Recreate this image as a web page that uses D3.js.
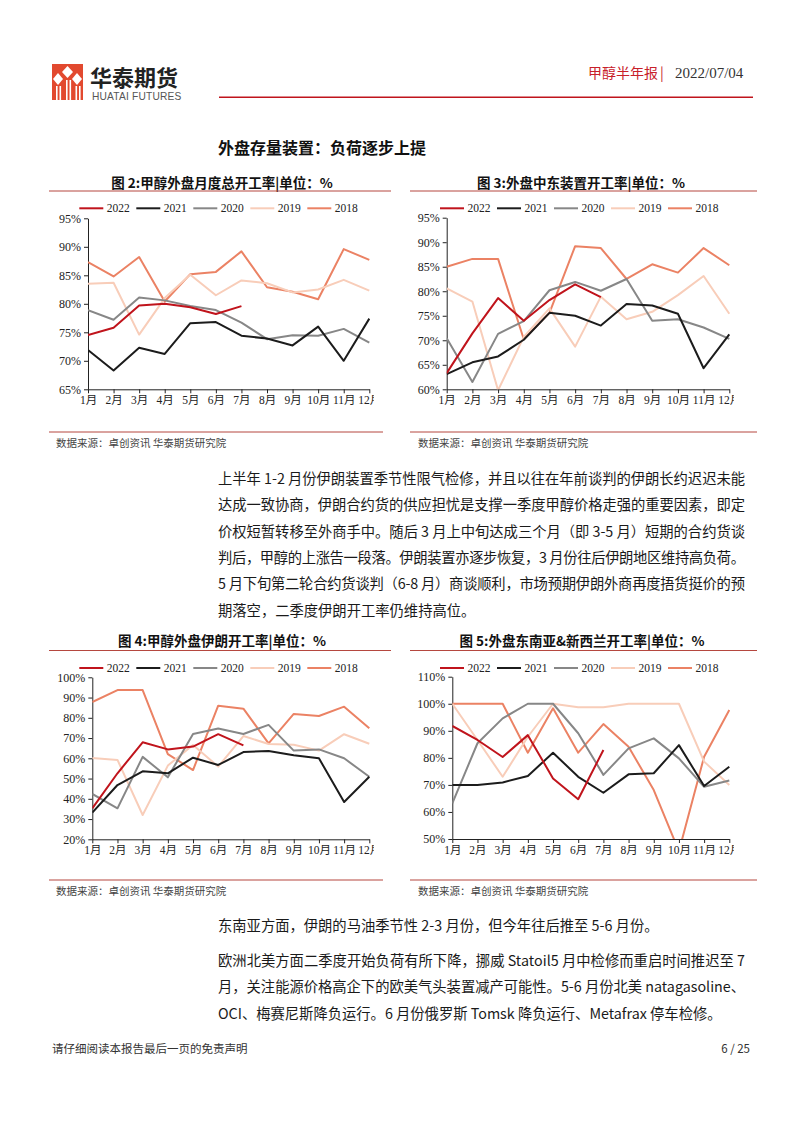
<!DOCTYPE html>
<html>
<head>
<meta charset="utf-8">
<script src="https://cdn.jsdelivr.net/npm/d3@7"></script>
<style>
  body { margin: 0; background: #fff; }
  svg { display: block; }
</style>
</head>
<body>
<svg id="page"></svg>
<script>
const W = 802;
const H = 1133;

const months = ["1月", "2月", "3月", "4月", "5月", "6月", "7月", "8月", "9月", "10月", "11月", "12月"];
const years = ["2022", "2021", "2020", "2019", "2018"];
const yearColors = ["#C0141C", "#1C1C1C", "#878787", "#F8CDB9", "#EB8264"];

// 图2 甲醇外盘月度总开工率
const total2022 = [74.5, 75.8, 79.7, 80.0, 79.4, 78.2, 79.6];
const total2021 = [71.9, 68.3, 72.3, 71.2, 76.6, 76.8, 74.4, 73.9, 72.7, 76.0, 70.0, 77.4];
const total2020 = [78.9, 77.2, 81.1, 80.6, 79.6, 78.9, 76.7, 73.8, 74.5, 74.4, 75.6, 73.2];
const total2019 = [83.5, 83.7, 74.6, 81.0, 85.1, 81.5, 84.1, 83.6, 82.0, 82.5, 84.2, 82.3];
const total2018 = [87.3, 84.8, 88.2, 80.4, 85.2, 85.6, 89.2, 82.9, 82.1, 80.8, 89.6, 87.7];

// 图3 外盘中东装置开工率
const mideast2022 = [63.3, 71.4, 78.6, 74.0, 78.2, 81.4, 78.8];
const mideast2021 = [63.1, 65.5, 66.7, 70.1, 75.6, 75.0, 73.0, 77.4, 77.1, 75.4, 64.3, 71.2];
const mideast2020 = [70.4, 61.5, 71.3, 73.9, 80.2, 81.9, 80.1, 82.5, 74.0, 74.3, 72.6, 70.3];
const mideast2019 = [80.6, 77.9, 59.8, 70.7, 76.5, 68.7, 78.9, 74.3, 75.8, 79.2, 83.1, 75.4];
const mideast2018 = [85.0, 86.6, 86.6, 70.2, 75.6, 89.2, 88.8, 82.5, 85.5, 83.8, 88.8, 85.3];

// 图4 甲醇外盘伊朗开工率
const iran2022 = [35.3, 52.6, 67.9, 64.4, 65.8, 71.9, 66.4];
const iran2021 = [33.2, 46.8, 53.6, 52.6, 60.3, 56.7, 63.1, 63.6, 61.5, 60.0, 38.4, 50.9];
const iran2020 = [42.4, 35.3, 60.7, 50.6, 72.0, 74.7, 72.0, 76.5, 63.8, 64.4, 60.0, 50.9];
const iran2019 = [60.2, 59.2, 32.0, 56.4, 66.6, 55.9, 71.0, 67.1, 66.7, 63.8, 71.9, 67.2];
const iran2018 = [87.8, 93.7, 93.7, 62.1, 54.2, 86.0, 84.5, 67.4, 81.9, 80.9, 85.5, 74.8];

// 图5 外盘东南亚&新西兰开工率
const sea2022 = [91.8, 86.6, 80.3, 88.4, 72.4, 64.7, 82.9];
const sea2021 = [70.0, 70.0, 70.9, 73.3, 81.9, 73.0, 67.1, 73.9, 74.3, 84.7, 69.6, 76.7];
const sea2020 = [63.2, 85.4, 94.6, 100, 100, 89.1, 73.7, 83.5, 87.2, 79.8, 69.3, 71.6];
const sea2019 = [100, 86.6, 73.0, 87.8, 100, 98.7, 98.7, 100, 100, 100, 78.6, 70.0];
const sea2018 = [100, 100, 100, 81.9, 98.3, 81.9, 92.5, 84.1, 68.1, 45.5, 80.4, 97.7];

const ticksTotal = [65, 70, 75, 80, 85, 90, 95];
const ticksMideast = [60, 65, 70, 75, 80, 85, 90, 95];
const ticksIran = [20, 30, 40, 50, 60, 70, 80, 90, 100];
const ticksSea = [50, 60, 70, 80, 90, 100, 110];

const sourceText = "数据来源：卓创资讯 华泰期货研究院";

const CJK = "'Noto Sans CJK SC', 'Noto Sans', sans-serif";
const SERIF = "'Liberation Serif', 'DejaVu Serif', 'Noto Sans CJK SC', serif";

const svg = d3.select("#page").attr("width", W).attr("height", H);
svg.append("rect").attr("width", W).attr("height", H).attr("fill", "#fff");

// Header
const logo = svg.append("g");
logo.append("rect").attr("x", 52).attr("y", 64).attr("width", 31).attr("height", 36).attr("fill", "#E2492F");
// white diamonds + stripes of the logo
const whiteShapes = [
  [[67.5, 66], [73, 72], [67.5, 78], [62, 72]],
  [[58, 73], [63, 79], [58, 85], [53, 79]],
  [[77, 73], [82, 79], [77, 85], [72, 79]],
];
whiteShapes.forEach(p => logo.append("polygon").attr("points", p.map(q => q.join(",")).join(" ")).attr("fill", "#fff"));
[[56, 86, 1.6], [59.5, 86, 1.6], [66, 80, 1.6], [69.5, 80, 1.6], [75.5, 86, 1.6], [79, 86, 1.6]].forEach(([x, y, w]) => {
  logo.append("rect").attr("x", x).attr("y", y).attr("width", w).attr("height", 100 - y).attr("fill", "#fff");
});

svg.append("text").attr("x", 90).attr("y", 86).attr("font-family", CJK).attr("font-weight", 700)
  .attr("font-size", 22).attr("fill", "#222").text("华泰期货");
svg.append("text").attr("x", 92).attr("y", 100).attr("font-family", "'Liberation Sans', Arial, sans-serif")
  .attr("font-size", 10.2).attr("fill", "#555").attr("letter-spacing", 0.2).text("HUATAI FUTURES");

svg.append("text").attr("x", 588).attr("y", 78).attr("font-family", CJK).attr("font-size", 14)
  .attr("fill", "#C8202A").text("甲醇半年报");
svg.append("text").attr("x", 660).attr("y", 78).attr("font-family", CJK).attr("font-size", 14)
  .attr("fill", "#C8202A").text("|");
svg.append("text").attr("x", 675).attr("y", 78).attr("font-family", SERIF).attr("font-size", 15)
  .attr("fill", "#333").text("2022/07/04");
svg.append("line").attr("x1", 219).attr("x2", 753).attr("y1", 97.3).attr("y2", 97.3)
  .attr("stroke", "#C0141C").attr("stroke-width", 1.6);

svg.append("text").attr("x", 218).attr("y", 154).attr("font-family", CJK).attr("font-weight", 700)
  .attr("font-size", 16).attr("fill", "#111").text("外盘存量装置：负荷逐步上提");

// Charts
const charts = [
  {
    id: "c2", title: "图 2:甲醇外盘月度总开工率|单位：%", box: [49, 391], srcEnd: 383, titleCx: 222,
    titleY: 183, ruleY: 191, legendX: 79.3, legendY: 208.3,
    x0: 88, x1: 369.3, yTop: 218.3, yBot: 389.3, domain: [65, 95], ticks: ticksTotal,
    series: [total2022, total2021, total2020, total2019, total2018], srcY: 432, srcTextX: 56
  },
  {
    id: "c3", title: "图 3:外盘中东装置开工率|单位：%", box: [410, 757], srcEnd: 757, titleCx: 581,
    titleY: 183, ruleY: 191, legendX: 440, legendY: 208.3,
    x0: 446.7, x1: 729.3, yTop: 217.7, yBot: 389.3, domain: [60, 95], ticks: ticksMideast,
    series: [mideast2022, mideast2021, mideast2020, mideast2019, mideast2018], srcY: 432, srcTextX: 418
  },
  {
    id: "c4", title: "图 4:甲醇外盘伊朗开工率|单位：%", box: [49, 391], srcEnd: 383, titleCx: 222,
    titleY: 641, ruleY: 650.5, legendX: 79.3, legendY: 668,
    x0: 92.3, x1: 369.3, yTop: 677.3, yBot: 839.3, domain: [20, 100], ticks: ticksIran,
    series: [iran2022, iran2021, iran2020, iran2019, iran2018], srcY: 880, srcTextX: 56
  },
  {
    id: "c5", title: "图 5:外盘东南亚&新西兰开工率|单位：%", box: [410, 757], srcEnd: 757, titleCx: 582,
    titleY: 641, ruleY: 650.5, legendX: 440, legendY: 668,
    x0: 452.3, x1: 729.3, yTop: 676.7, yBot: 839, domain: [50, 110], ticks: ticksSea,
    series: [sea2022, sea2021, sea2020, sea2019, sea2018], srcY: 880, srcTextX: 418
  }
];

const defs = svg.append("defs");

charts.forEach(drawChart);

function drawChart(cfg) {
  const x = d3.scalePoint().domain(months).range([cfg.x0, cfg.x1]);
  const y = d3.scaleLinear().domain(cfg.domain).range([cfg.yBot, cfg.yTop]);
  const g = svg.append("g");

  // Title + rule
  g.append("text").attr("x", cfg.titleCx).attr("y", cfg.titleY).attr("dy", "0.36em")
    .attr("text-anchor", "middle").attr("font-family", CJK).attr("font-weight", 700)
    .attr("font-size", 13.5).attr("fill", "#111").text(cfg.title);
  g.append("line").attr("x1", cfg.box[0]).attr("x2", cfg.box[1]).attr("y1", cfg.ruleY).attr("y2", cfg.ruleY)
    .attr("stroke", "#B5473F").attr("stroke-width", 1);

  // Clip paths (x-axis clip is in the axis group's translated space)
  defs.append("clipPath").attr("id", cfg.id + "plot").append("rect")
    .attr("x", cfg.x0).attr("y", cfg.yTop - 1).attr("width", cfg.x1 - cfg.x0 + 2).attr("height", cfg.yBot - cfg.yTop + 1);
  defs.append("clipPath").attr("id", cfg.id + "xax").append("rect")
    .attr("x", cfg.x0 - 20).attr("y", -2).attr("width", cfg.x1 - cfg.x0 + 24.5).attr("height", 30);

  // Y axis
  const ya = g.append("g").attr("transform", `translate(${cfg.x0},0)`)
    .call(d3.axisLeft(y).tickValues(cfg.ticks).tickFormat(d => d + "%").tickSize(4).tickPadding(3).tickSizeOuter(0));
  ya.selectAll("text").attr("font-family", SERIF).attr("font-size", 12).attr("fill", "#222");
  ya.selectAll("line, path").attr("stroke", "#222");

  // X axis
  const xa = g.append("g").attr("transform", `translate(0,${cfg.yBot})`)
    .attr("clip-path", `url(#${cfg.id}xax)`)
    .call(d3.axisBottom(x).tickSize(4).tickPadding(3).tickSizeOuter(0));
  xa.selectAll("text").attr("font-family", SERIF).attr("font-size", 11.5).attr("fill", "#222");
  xa.selectAll("line, path").attr("stroke", "#222");

  // Lines, 2018 drawn first so 2022 sits on top
  const line = d3.line().x((d, i) => x(months[i])).y(d => y(d));
  const lines = g.append("g").attr("clip-path", `url(#${cfg.id}plot)`);
  for (let i = years.length - 1; i >= 0; i--) {
    lines.append("path").datum(cfg.series[i]).attr("d", line)
      .attr("fill", "none").attr("stroke", yearColors[i]).attr("stroke-width", 2)
      .attr("stroke-linejoin", "round");
  }

  // Legend
  years.forEach((yr, i) => {
    const lx = cfg.legendX + i * 57;
    g.append("line").attr("x1", lx).attr("x2", lx + 24).attr("y1", cfg.legendY).attr("y2", cfg.legendY)
      .attr("stroke", yearColors[i]).attr("stroke-width", 2);
    g.append("text").attr("x", lx + 27.5).attr("y", cfg.legendY).attr("dy", "0.35em")
      .attr("font-family", SERIF).attr("font-size", 11.5).attr("fill", "#222").text(yr);
  });

  // Source
  g.append("line").attr("x1", cfg.box[0]).attr("x2", cfg.srcEnd).attr("y1", cfg.srcY).attr("y2", cfg.srcY)
    .attr("stroke", "#B5473F").attr("stroke-width", 1);
  g.append("text").attr("x", cfg.srcTextX).attr("y", cfg.srcY + 11).attr("dy", "0.36em")
    .attr("font-family", CJK).attr("font-size", 10.5).attr("fill", "#444").text(sourceText);
}

// Body text
const para1 = [
  "上半年 1-2 月份伊朗装置季节性限气检修，并且以往在年前谈判的伊朗长约迟迟未能",
  "达成一致协商，伊朗合约货的供应担忧是支撑一季度甲醇价格走强的重要因素，即定",
  "价权短暂转移至外商手中。随后 3 月上中旬达成三个月（即 3-5 月）短期的合约货谈",
  "判后，甲醇的上涨告一段落。伊朗装置亦逐步恢复，3 月份往后伊朗地区维持高负荷。",
  "5 月下旬第二轮合约货谈判（6-8 月）商谈顺利，市场预期伊朗外商再度捂货挺价的预",
  "期落空，二季度伊朗开工率仍维持高位。"
];
const para1Y = [479, 505.3, 531.6, 557.9, 584.2, 610.5];
const para2 = ["东南亚方面，伊朗的马油季节性 2-3 月份，但今年往后推至 5-6 月份。"];
const para3 = [
  "欧洲北美方面二季度开始负荷有所下降，挪威 Statoil5 月中检修而重启时间推迟至 7",
  "月，关注能源价格高企下的欧美气头装置减产可能性。5-6 月份北美 natagasoline、",
  "OCI、梅赛尼斯降负运行。6 月份俄罗斯 Tomsk 降负运行、Metafrax 停车检修。"
];
const para3Y = [961, 987.3, 1013.6];

function bodyLine(txt, y, justify) {
  const t = svg.append("text").attr("x", 218).attr("y", y).attr("dy", "0.36em")
    .attr("font-family", CJK).attr("font-size", 14.3).attr("fill", "#1a1a1a").text(txt);
  if (justify) t.attr("textLength", 527).attr("lengthAdjust", "spacing");
}
para1.forEach((s, i) => bodyLine(s, para1Y[i], i < para1.length - 1));
bodyLine(para2[0], 926, false);
para3.forEach((s, i) => bodyLine(s, para3Y[i], i < 2));

// Footer
svg.append("text").attr("x", 52).attr("y", 1049).attr("dy", "0.36em").attr("font-family", CJK)
  .attr("font-size", 11.5).attr("fill", "#333").text("请仔细阅读本报告最后一页的免责声明");
svg.append("text").attr("x", 750).attr("y", 1049).attr("dy", "0.36em").attr("text-anchor", "end")
  .attr("font-family", CJK).attr("font-size", 11.5).attr("fill", "#333").text("6 / 25");
</script>
</body>
</html>
